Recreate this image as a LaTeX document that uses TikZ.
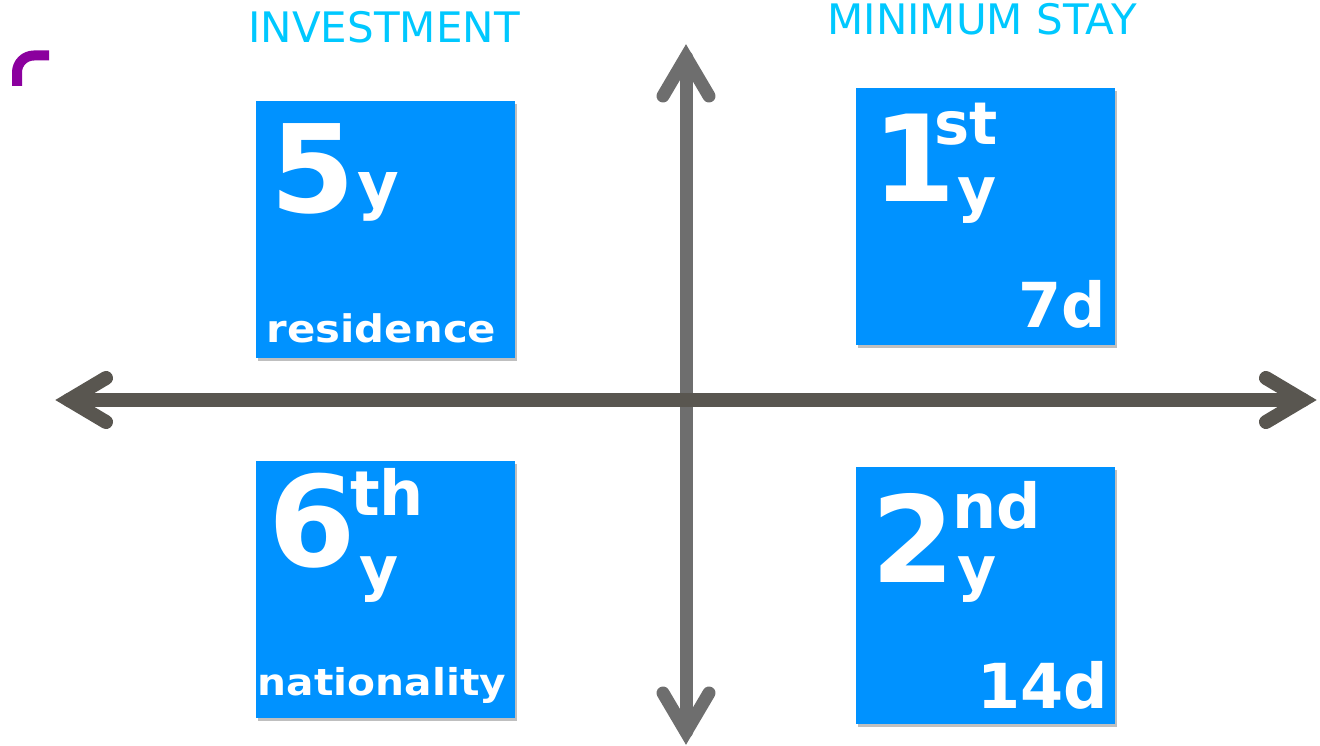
\documentclass[tikz,border=0pt]{standalone}
\usepackage{fontspec}
\newfontfamily\vb{DejaVu Sans}
\newfontfamily\vw{DejaVu Sans}[FakeStretch=1.1]
\usetikzlibrary{shadows}
\definecolor{boxblue}{RGB}{0,146,255}
\definecolor{titlecyan}{RGB}{0,200,255}
\definecolor{harrow}{RGB}{89,86,80}
\definecolor{varrow}{RGB}{110,110,110}
\definecolor{purplemark}{RGB}{139,0,158}
\tikzset{
  qbox/.style={fill=boxblue, draw=none,
    drop shadow={shadow xshift=2pt, shadow yshift=-3pt, opacity=0.25, fill=black}},
  btxt/.style={text=white, inner sep=0pt, anchor=base west, font=\vb\bfseries},
  title/.style={text=titlecyan, inner sep=0pt, anchor=base, font=\vb\fontsize{42}{42}\selectfont},
  harr/.style={draw=harrow, line width=14pt, line cap=round, line join=miter},
  varr/.style={draw=varrow, line width=13pt, line cap=round, line join=miter},
}
\newcommand{\fs}[1]{\fontsize{#1}{#1}\selectfont}
\begin{document}
\begin{tikzpicture}[x=1pt, y=-1pt]
\useasboundingbox (0,0) rectangle (1320,746);
% purple mark
\draw[draw=purplemark, line width=10pt] (17,86) -- (17,72.5) .. controls (17,63) and (24.5,55.5) .. (34,55.5) -- (49,55.5);
% titles
\node[title] (t1) at (384,43) {INVESTMENT};
\node[title] (t2) at (982,35) {MINIMUM STAY};
% boxes
\path[qbox] (256,101) rectangle (515,358);
\path[qbox] (856,88) rectangle (1115,345);
\path[qbox] (256,461) rectangle (515,718);
\path[qbox] (856,467) rectangle (1115,724);
% vertical arrow
\coordinate (vt) at (686,57);
\coordinate (vb) at (686,732);
\draw[varr] (vt) -- (vb);
\draw[varr] (663,96) -- (vt) -- (709,96);
\draw[varr] (663,693) -- (vb) -- (709,693);
% horizontal arrow
\coordinate (hl) at (69,400);
\coordinate (hr) at (1303,400);
\draw[harr] (hl) -- (hr);
\draw[harr] (106,378) -- (hl) -- (106,422);
\draw[harr] (1266,378) -- (hr) -- (1266,422);
% TL
\node[btxt, font=\vb\bfseries\fs{122}] (a1) at (270,213) {5};
\node[btxt, font=\vb\bfseries\fs{64}] (a2) at (357,208) {y};
\node[btxt, anchor=base, font=\vw\bfseries\fs{38}] (a3) at (381.5,342) {residence};
% TR
\node[btxt, font=\vb\bfseries\fs{120}] (b1) at (872,202) {1};
\node[btxt, font=\vb\bfseries\fs{59}] (b2) at (934,145) {st};
\node[btxt, font=\vb\bfseries\fs{60}] (b3) at (957,211) {y};
\node[btxt, anchor=base east, font=\vb\bfseries\fs{62}] (b4) at (1106,327) {7d};
% BL
\node[btxt, font=\vb\bfseries\fs{126}] (c1) at (268,566) {6};
\node[btxt, font=\vb\bfseries\fs{62}] (c2) at (350,515) {th};
\node[btxt, font=\vb\bfseries\fs{60}] (c3) at (359,589) {y};
\node[btxt, anchor=base, font=\vw\bfseries\fs{37}] (c4) at (382,695) {nationality};
% BR
\node[btxt, font=\vb\bfseries\fs{120}] (d1) at (871,582) {2};
\node[btxt, font=\vb\bfseries\fs{62}] (d2) at (952,528) {nd};
\node[btxt, font=\vb\bfseries\fs{60}] (d3) at (957,589) {y};
\node[btxt, anchor=base east, font=\vb\bfseries\fs{62}] (d4) at (1108,708) {14d};
\end{tikzpicture}
\end{document}
